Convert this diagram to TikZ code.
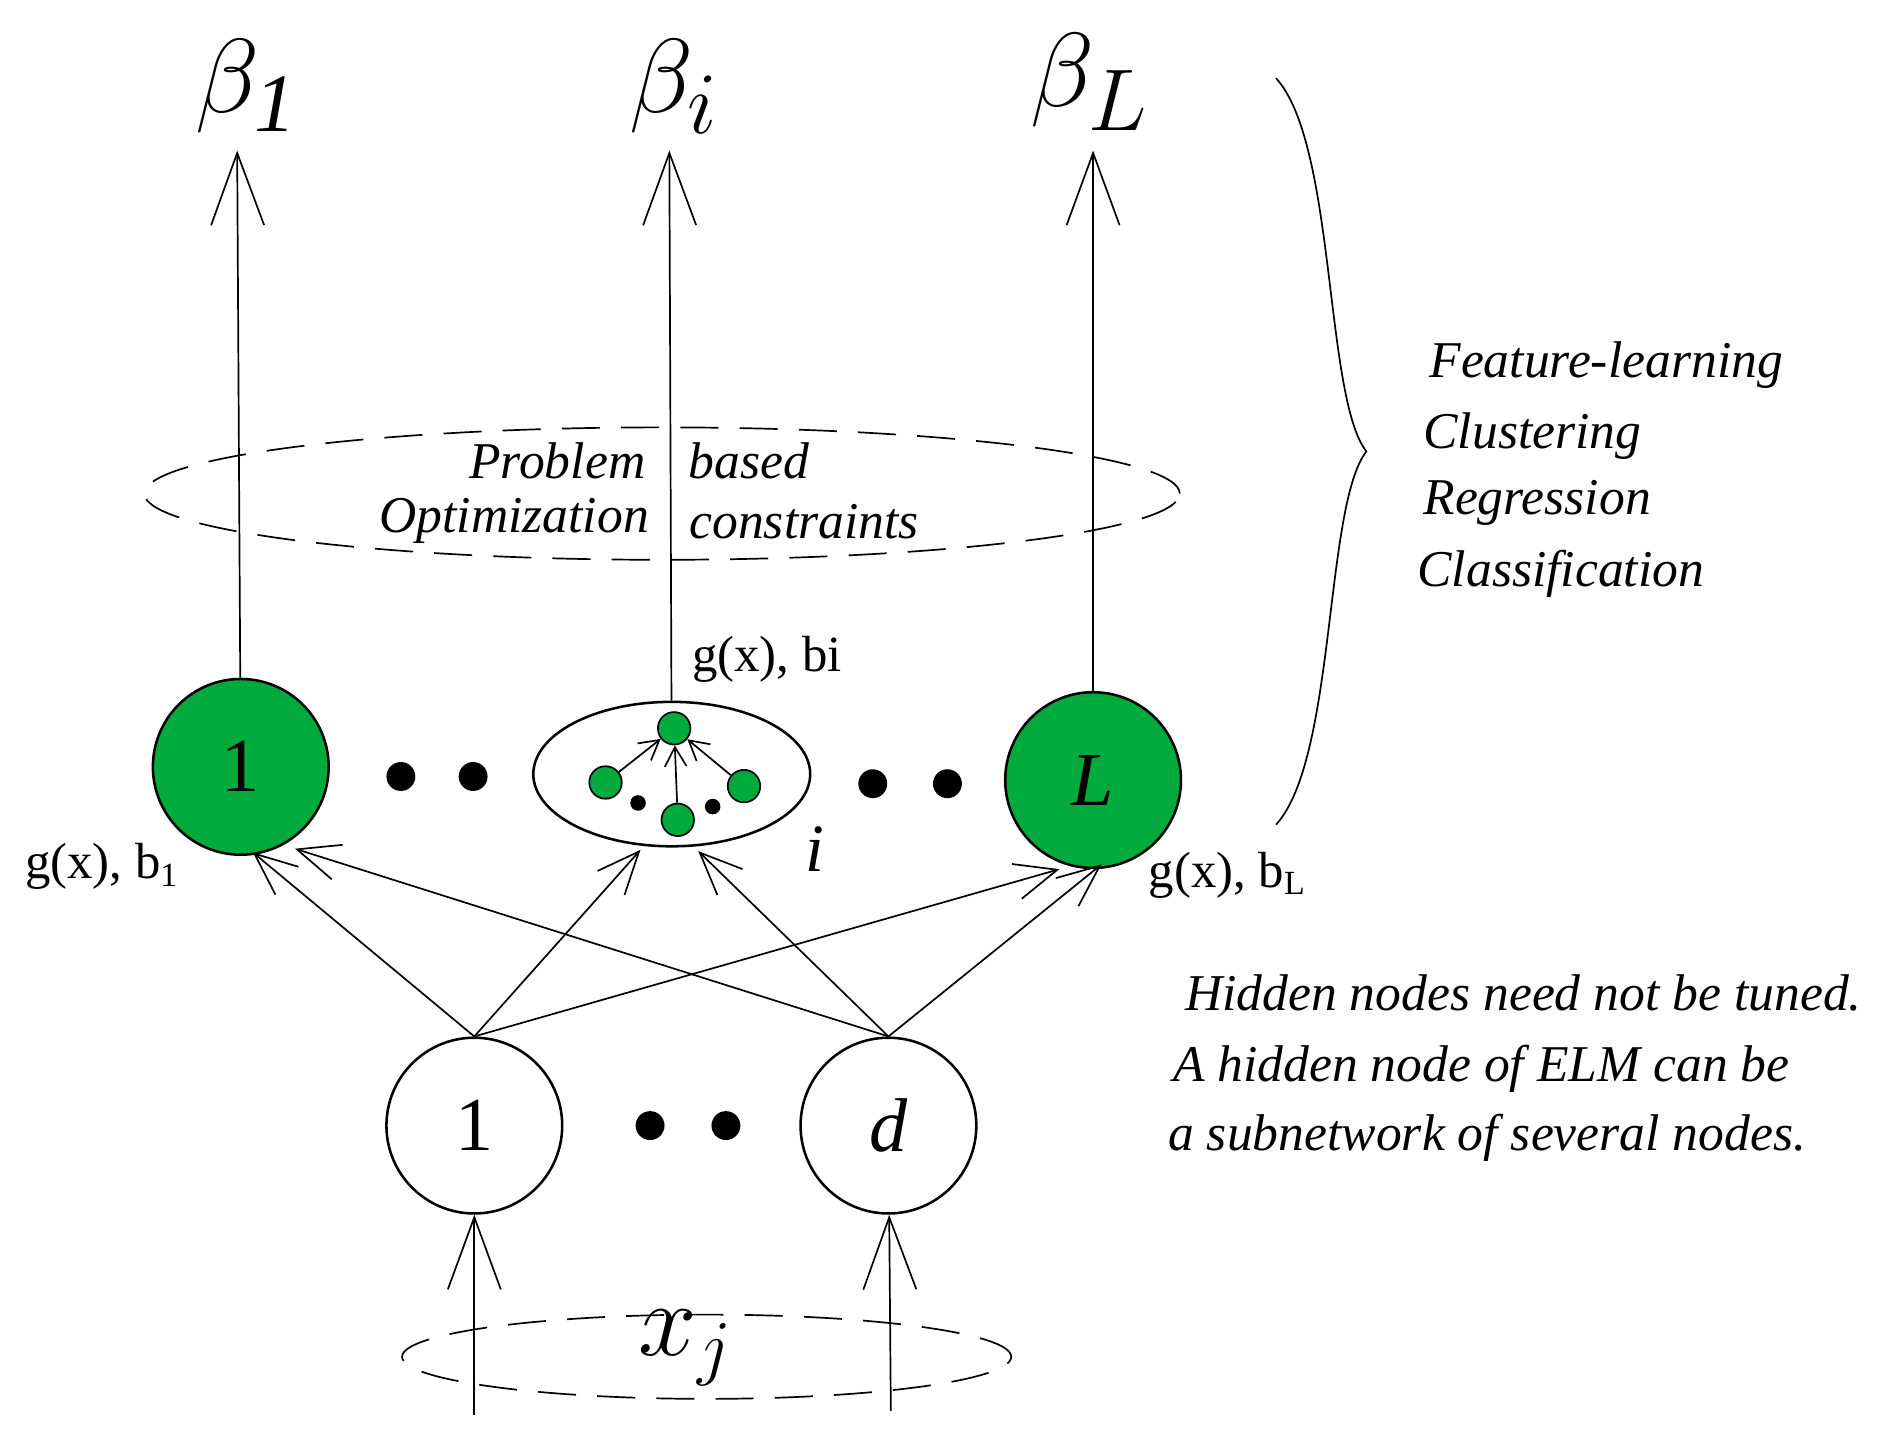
\documentclass[tikz,border=0pt]{standalone}
\usepackage{fontspec}
\setmainfont{Liberation Serif}
\usetikzlibrary{arrows.meta,shapes,positioning,calc}
\definecolor{elmgreen}{RGB}{0,170,60}
\tikzset{
  neuron/.style={circle, draw, semithick, minimum size=1.46cm, inner sep=0pt, font=\fontsize{18}{18}\selectfont},
  hid/.style={neuron, fill=elmgreen},
  sub/.style={circle, draw, fill=elmgreen, minimum size=0.27cm, inner sep=0pt},
  bigtip/.style={-{Straight Barb[length=6mm, width=4.4mm]}},
  midtip/.style={-{Straight Barb[length=3.5mm, width=3mm]}},
  smalltip/.style={-{Straight Barb[length=1.6mm, width=1.8mm]}},
  dot/.style={circle, fill, minimum size=0.24cm, inner sep=0pt},
  note/.style={font=\itshape\fontsize{12.2}{12.2}\selectfont, anchor=west},
  lbl/.style={font=\fontsize{12}{12}\selectfont},
  beta/.style={font=\fontsize{28}{28}\selectfont},
  longdash/.style={dash pattern=on 9pt off 5pt}
}
\begin{document}
\begin{tikzpicture}[x=0.1mm, y=-0.1mm]
    \useasboundingbox (0,0) rectangle (1560,1206);

    % Output layer
    \node[hid] (h1) at (200,637) {1};
    \node[hid] (hL) at (908,648) {\textit{L}};
    \node[draw, semithick, ellipse, minimum width=2.3cm, minimum height=1.2cm] (hi) at (558,643) {};
    \node[dot] (d1) at (333,645) {};
    \node[dot] (d2) at (393,645) {};
    \node[dot] (d3) at (725,651) {};
    \node[dot] (d4) at (787,651) {};

    % Subnetwork inside node i
    \node[sub] (st) at (560,605) {};
    \node[sub] (sl) at (503,650) {};
    \node[sub] (sr) at (618,653) {};
    \node[sub] (sb) at (563,681) {};
    \node[circle, fill, inner sep=1.3pt] (sd1) at (530,667) {};
    \node[circle, fill, inner sep=1.3pt] (sd2) at (592,670) {};
    \foreach \s in {sl,sr,sb}
        \draw[smalltip] (\s) -- (st);

    % Input layer
    \node[neuron] (x1) at (394,935) {1};
    \node[neuron] (xd) at (738,935) {\textit{d}};
    \node[dot] (d5) at (540,935) {};
    \node[dot] (d6) at (603,935) {};

    % Input sample
    \node[draw, longdash, ellipse, minimum width=5.06cm, minimum height=0.7cm] (xj) at (587,1127) {};
    \node[font=\fontsize{26}{26}\selectfont] (xjl) at (570,1120) {$x_j$};
    \coordinate (in1) at (394,1175);
    \coordinate (ind) at (740,1172);
    \draw[bigtip] (in1) -- (x1);
    \draw[bigtip] (ind) -- (xd);

    % Random hidden connections
    \draw[midtip] (x1.north) -- (210,708);
    \draw[midtip] (x1.north) -- (532,706);
    \draw[midtip] (x1.north) -- (880,722);
    \draw[midtip] (xd.north) -- (245,705);
    \draw[midtip] (xd.north) -- (580,707);
    \draw[midtip] (xd.north) -- (915,718);

    % Outputs
    \coordinate (o1) at (197,125);
    \coordinate (oi) at (556,125);
    \coordinate (oL) at (908,125);
    \draw[bigtip] (h1) -- (o1);
    \draw[bigtip] (hi) -- (oi);
    \draw[bigtip] (hL) -- (oL);
    \node[beta] (b1) at (205,72) {$\beta_{\mathit{1}}$};
    \node[beta] (bi) at (560,72) {$\beta_{i}$};
    \node[beta] (bL) at (905,68) {$\beta_{L}$};

    % Optimization ellipse
    \node[draw, longdash, ellipse, minimum width=8.6cm, minimum height=1.1cm] (opt) at (550,410) {};
    \node[note, anchor=center] (p1) at (463,383) {Problem};
    \node[note, anchor=center] (p2) at (622,383) {based};
    \node[note, anchor=center] (p3) at (427,433) {Optimization};
    \node[note, anchor=center] (p4) at (668,433) {constraints};

    % Labels
    \node[lbl] (g1) at (85,720) {g(x), b\textsubscript{1}};
    \node[lbl] (gi) at (637,548) {g(x), bi};
    \node[lbl] (gL) at (1020,727) {g(x), b\textsubscript{L}};
    \node[font=\itshape\fontsize{16}{16}\selectfont] (il) at (677,705) {i};

    % Brace and tasks
    \draw (1060,65) .. controls (1110,120) and (1100,330) .. (1135,375)
                    .. controls (1100,420) and (1110,630) .. (1060,685);
    \node[note] (t1) at (1175,303) {Feature-learning};
    \node[note] (t2) at (1170,362) {Clustering};
    \node[note] (t3) at (1170,418) {Regression};
    \node[note] (t4) at (1165,477) {Classification};

    % Notes
    \node[note] (n1) at (972,825) {Hidden nodes need not be tuned.};
    \node[note] (n2) at (962,888) {A hidden node of ELM can be};
    \node[note] (n3) at (958,945) {a subnetwork of several nodes.};
\end{tikzpicture}
\end{document}
